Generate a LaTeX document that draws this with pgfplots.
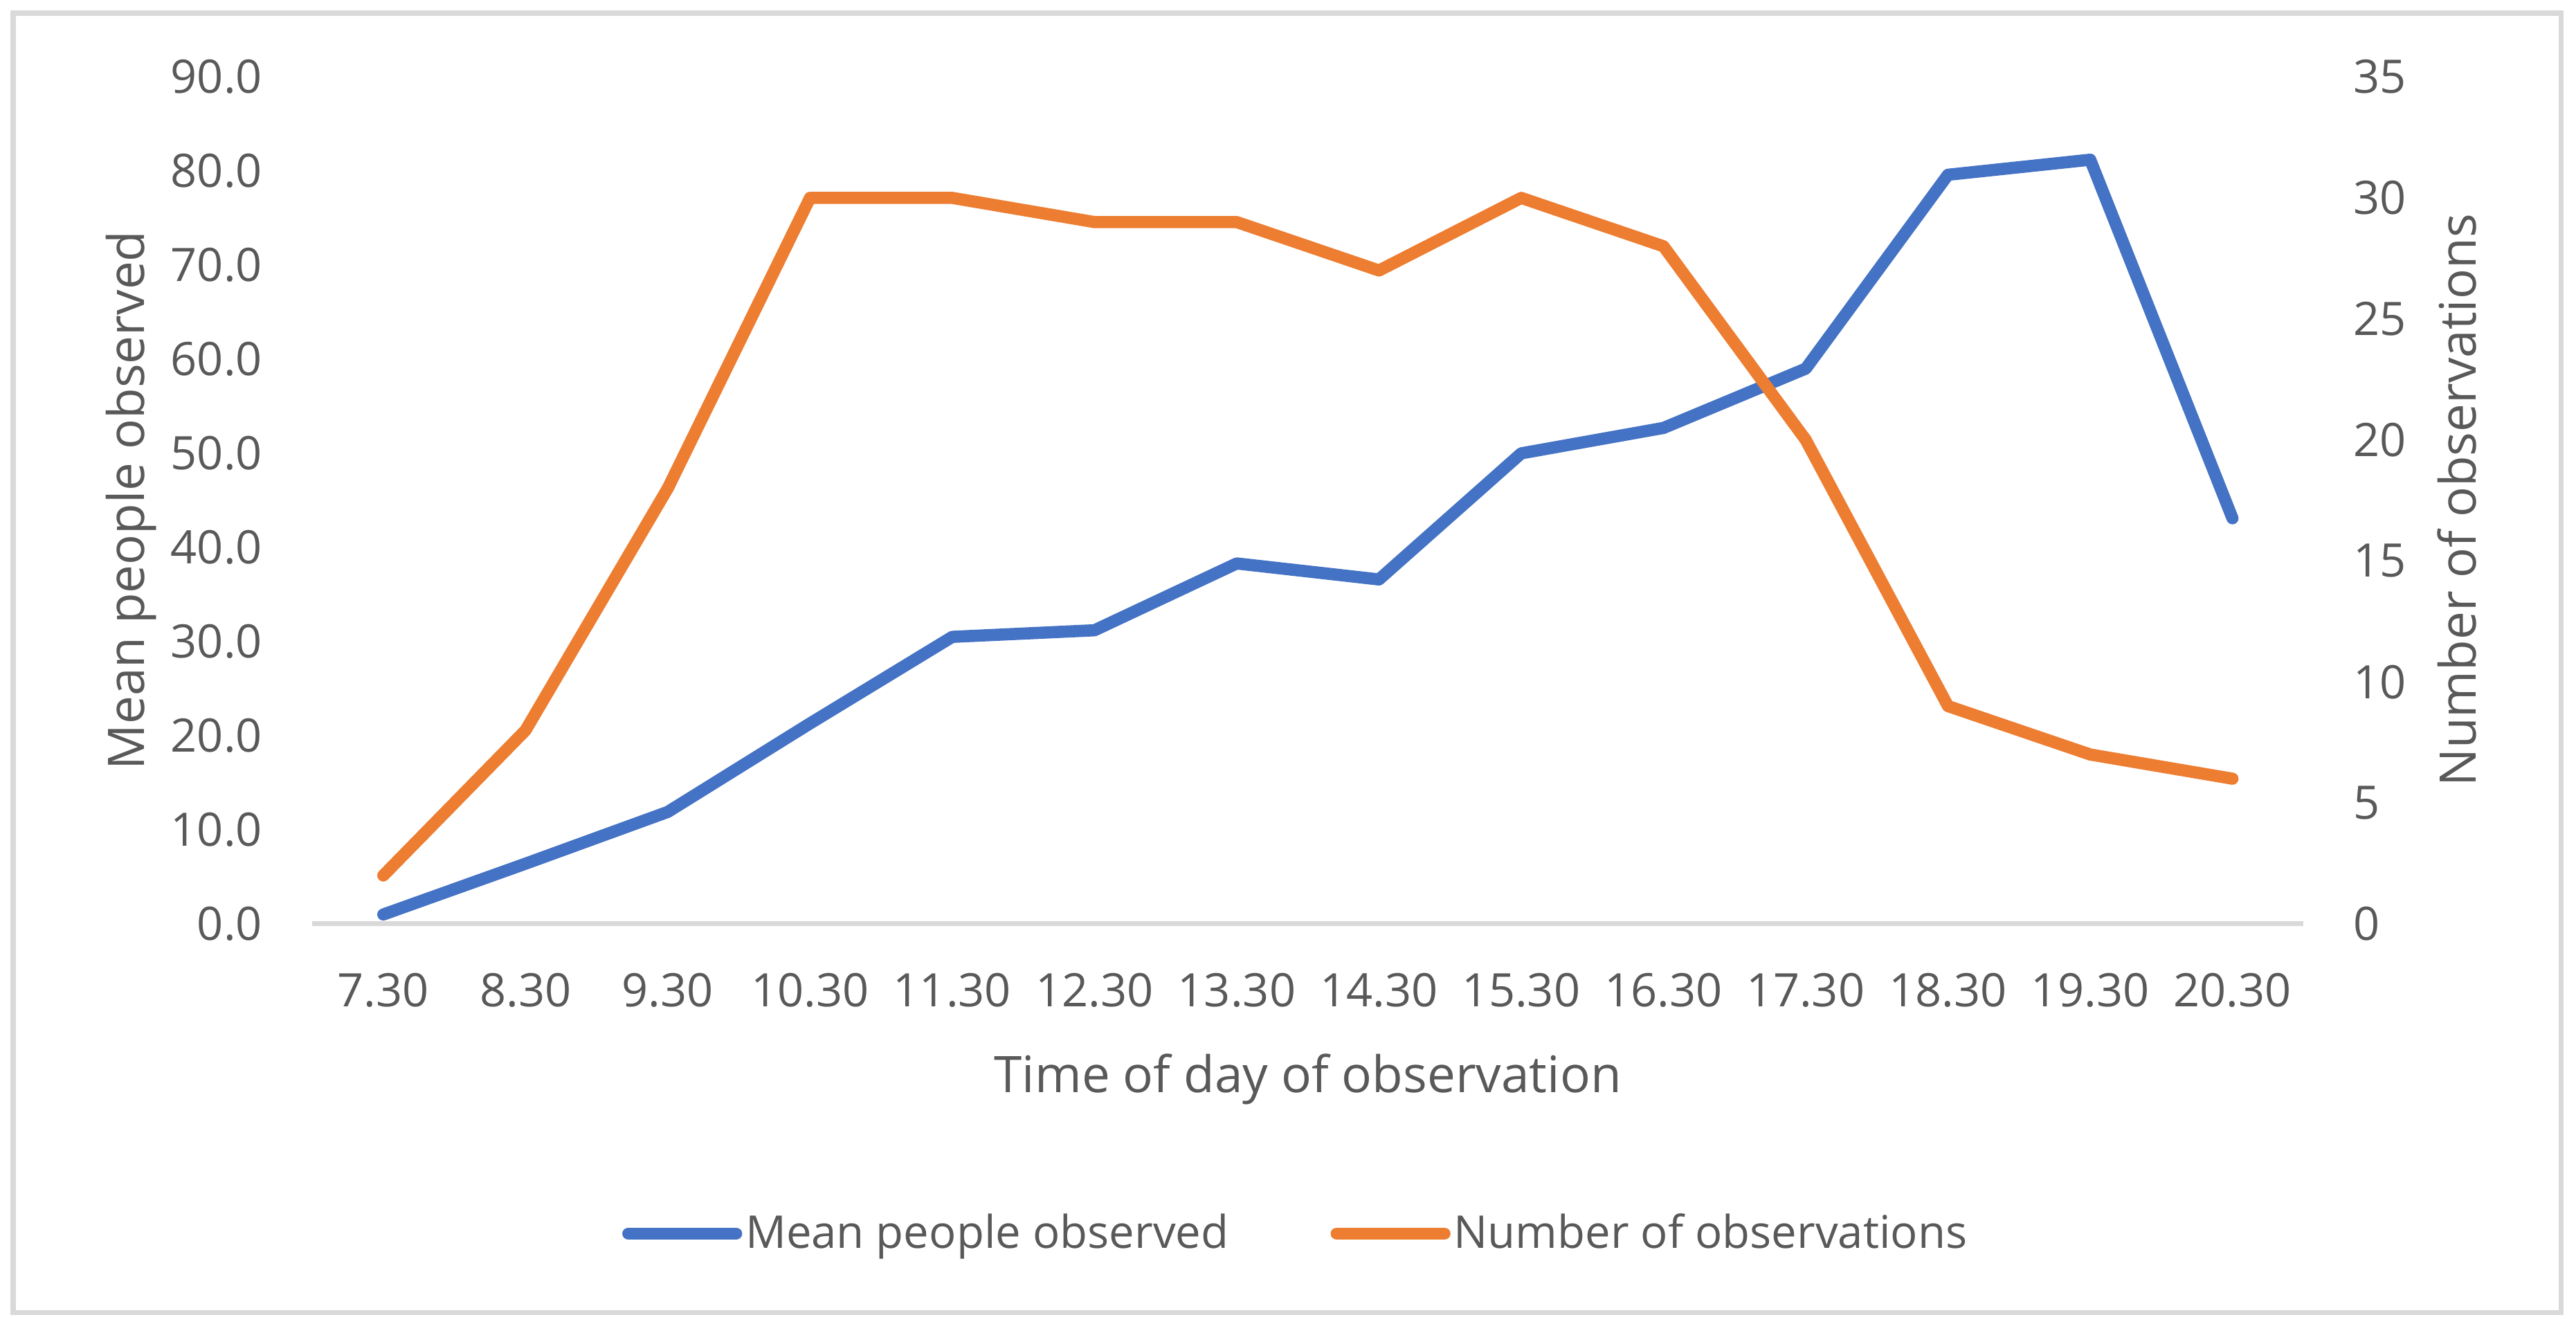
\documentclass[border=0pt]{standalone}
\usepackage{fontspec}
\setmainfont{Open Sans}
\usepackage{pgfplots}
\usepackage{pgfplotstable}
\pgfplotsset{compat=1.18}
\definecolor{cblue}{HTML}{4472C4}
\definecolor{corange}{HTML}{ED7D31}
\definecolor{ctext}{HTML}{595959}
\definecolor{cgrid}{HTML}{D9D9D9}

\pgfplotstableread{
x mean obs
0 1.0 2
1 6.4 8
2 11.9 18
3 21.3 30
4 30.5 30
5 31.2 29
6 38.3 29
7 36.6 27
8 50.0 30
9 52.7 28
10 59.0 20
11 79.6 9
12 81.2 7
13 43.1 6
}\datatable

\pgfplotsset{
  common/.style={
    scale only axis, width=606bp, height=257.75bp,
    at={(95bp,124.3bp)}, anchor=south west,
    xmin=-0.5, xmax=13.5, ymin=0,
    clip=false,
    axis line style={draw=none},
    major tick length=0pt,
    tick style={draw=none},
    /pgf/number format/assume math mode=true,
    ticklabel style={font=\fontsize{14.1}{16}\selectfont, text=ctext, inner sep=0pt},
    label style={font=\fontsize{15.4}{18}\selectfont, text=ctext, inner sep=0pt},
  }
}

\begin{document}
\begin{tikzpicture}
\path[use as bounding box] (0,0) rectangle (783.9bp,405.45bp);
\draw[cgrid, line width=1.5bp] (4bp,5.95bp) rectangle (779.3bp,401.45bp);

\begin{axis}[common,
  ymax=90, ytick={0,10,...,90},
  yticklabel style={/pgf/number format/fixed, /pgf/number format/fixed zerofill,
    /pgf/number format/precision=1, anchor=east, xshift=-15bp},
  extra y ticks={0}, extra y tick labels={},
  extra y tick style={grid=major, major grid style={cgrid, line width=1.5bp}},
  xtick={0,...,13},
  xticklabels={7.30,8.30,9.30,10.30,11.30,12.30,13.30,14.30,15.30,16.30,17.30,18.30,19.30,20.30},
  xticklabel style={anchor=base, yshift=-25.2bp},
  xlabel={Time of day of observation},
  xlabel style={at={(axis description cs:0.5,-0.1994)}, anchor=base},
  ylabel={Mean people observed},
  ylabel style={at={(axis description cs:-0.08416,0.5)}, anchor=base},
]
\addplot[cblue, line width=3.7bp, line cap=round, line join=round] table[x=x, y=mean] {\datatable};
\end{axis}

\begin{axis}[common,
  ymax=35, ytick={0,5,...,35},
  yticklabel pos=right,
  yticklabel style={anchor=west, xshift=15bp},
  xtick=\empty,
  ylabel={Number of observations},
  ylabel style={at={(axis description cs:1.0864,0.5)}, anchor=base},
  legend columns=2,
  legend image code/.code={\path[draw=none, fill=none] (0bp,-2bp) rectangle (36.5bp,2bp);
    \draw[#1, line cap=round] (1.85bp,0bp) -- (34.65bp,0bp);},
  legend style={draw=none, fill=none, inner sep=0pt,
    at={(axis description cs:0.4934,-0.3656)}, anchor=center,
    font=\fontsize{13.8}{16}\selectfont, text=ctext,
    nodes={inner sep=0pt},
    /tikz/every odd column/.append style={column sep=1bp},
    /tikz/every even column/.append style={column sep=31bp}},
]
\addlegendimage{cblue, line width=3.7bp}
\addlegendentry{Mean people observed}
\addplot[corange, line width=3.7bp, line cap=round, line join=round] table[x=x, y=obs] {\datatable};
\addlegendentry{Number of observations}
\end{axis}
\end{tikzpicture}
\end{document}
